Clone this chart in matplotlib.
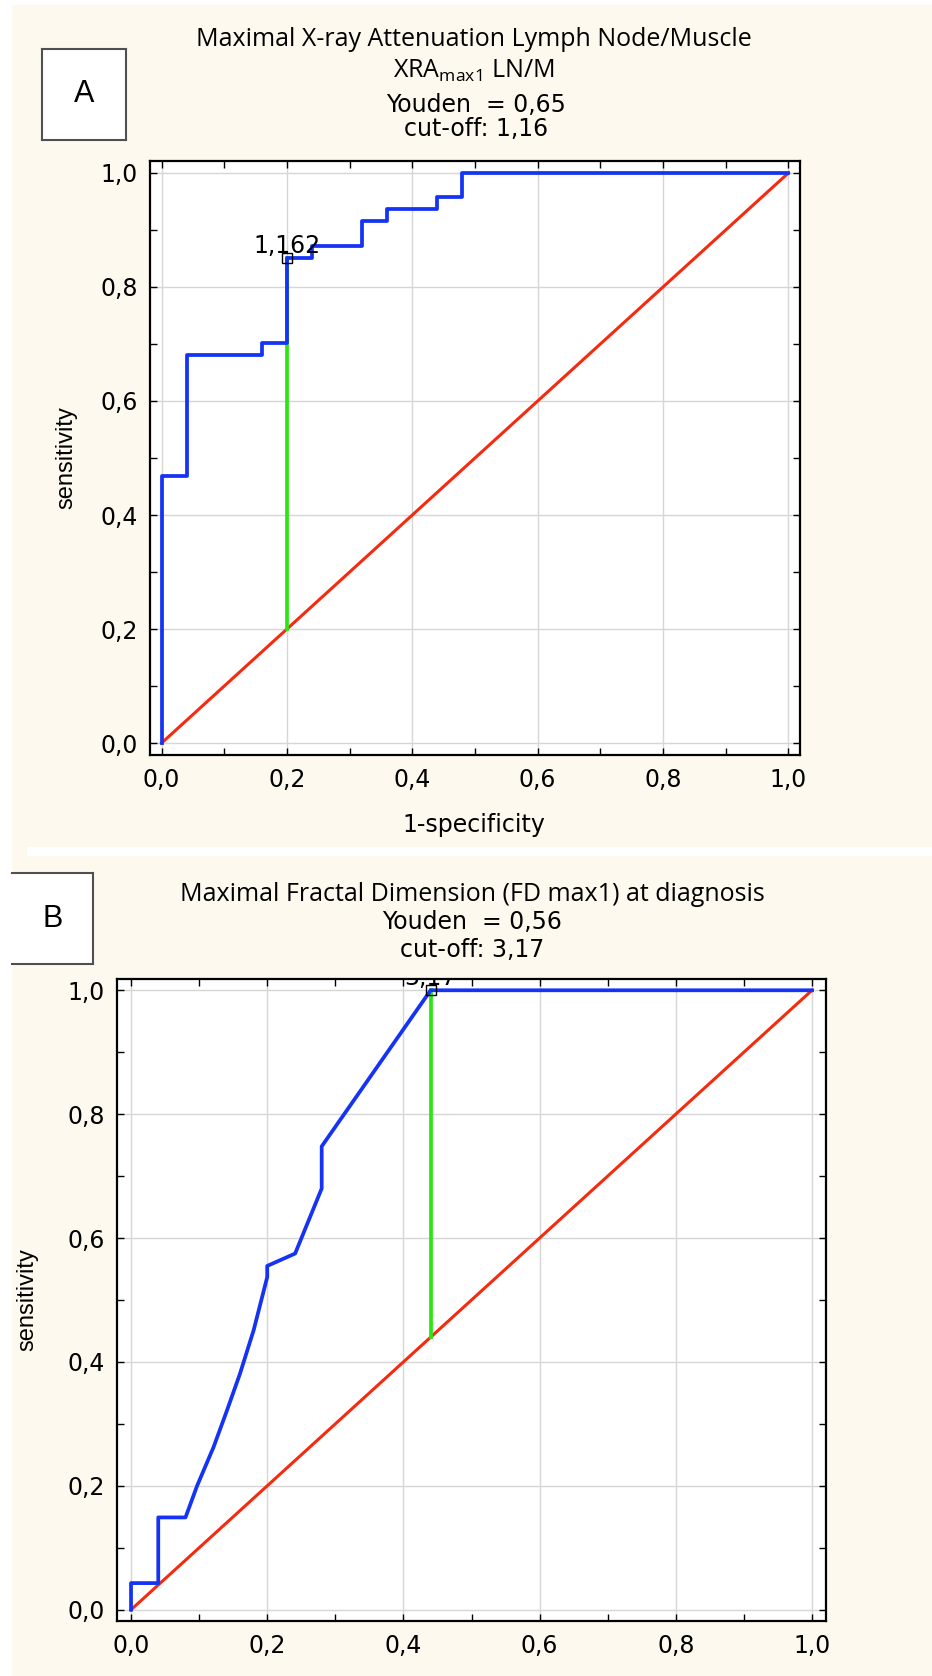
import matplotlib
matplotlib.use("Agg")
import matplotlib.pyplot as plt
from matplotlib.patches import Rectangle
from matplotlib.lines import Line2D
from matplotlib.ticker import MultipleLocator, FixedLocator, FixedFormatter

LARGURA, ALTURA = 932, 1676
DPI = 100

# Curva ROC - painel A (XRA max1 LN/M)
A_FPR = [0.0, 0.0, 0.04, 0.04, 0.16, 0.16, 0.20, 0.20, 0.24, 0.24,
         0.32, 0.32, 0.36, 0.36, 0.44, 0.44, 0.48, 0.48, 1.0]
A_TPR = [0.0, 0.468, 0.468, 0.681, 0.681, 0.702, 0.702, 0.851, 0.851, 0.872,
         0.872, 0.915, 0.915, 0.936, 0.936, 0.957, 0.957, 1.0, 1.0]
A_CORTE = (0.20, 0.851)
A_ROTULO = "1,162"

# Curva ROC - painel B (FD max1)
B_FPR = [0.0, 0.0, 0.04, 0.04, 0.08, 0.097, 0.121, 0.14, 0.16, 0.18,
         0.20, 0.20, 0.241, 0.28, 0.28, 0.44, 1.0]
B_TPR = [0.0, 0.043, 0.043, 0.149, 0.149, 0.20, 0.262, 0.319, 0.381, 0.451,
         0.537, 0.555, 0.575, 0.680, 0.748, 1.0, 1.0]
B_CORTE = (0.44, 1.0)
B_ROTULO = "3,17"

TICKS = [0.0, 0.2, 0.4, 0.6, 0.8, 1.0]
TICK_LABELS = ["0,0", "0,2", "0,4", "0,6", "0,8", "1,0"]

CREME = "#fdf9ee"
AZUL = "#1433f5"
VERMELHO = "#f52a0e"
VERDE = "#2ae812"
SANS = ["DejaVu Sans"]
ARIAL = ["Liberation Sans", "DejaVu Sans"]
TITULO = ["Open Sans", "DejaVu Sans"]


def fx(px):
    return px / LARGURA


def fy(py):
    return 1 - py / ALTURA


def eixo(fig, esq, topo, dir_, base, xlim, ylim):
    ax = fig.add_axes([fx(esq), fy(base), fx(dir_ - esq), (base - topo) / ALTURA])
    ax.set_zorder(2)
    ax.set_xlim(*xlim)
    ax.set_ylim(*ylim)
    ax.set_facecolor("white")
    for lado in ax.spines.values():
        lado.set_linewidth(1.6)
        lado.set_color("black")
    for eixo_ in (ax.xaxis, ax.yaxis):
        eixo_.set_major_locator(FixedLocator(TICKS))
        eixo_.set_major_formatter(FixedFormatter(TICK_LABELS))
        eixo_.set_minor_locator(MultipleLocator(0.1))
    ax.tick_params(which="both", direction="in", top=True, right=True,
                   length=5, width=1, labelsize=17, pad=9)
    for t in ax.get_xticklabels() + ax.get_yticklabels():
        t.set_family(SANS)
    ax.grid(True, which="major", color="#d6d6d6", linewidth=1)
    ax.set_axisbelow(True)
    return ax


def desenhar_roc(ax, fpr, tpr, corte, rotulo):
    ax.plot([0, 1], [0, 1], color=VERMELHO, linewidth=2.2, zorder=3)
    ax.plot([corte[0], corte[0]], [corte[0], corte[1]], color=VERDE,
            linewidth=2.7, zorder=4)
    ax.plot(fpr, tpr, color=AZUL, linewidth=2.7, zorder=5)
    ax.plot([corte[0]], [corte[1]], marker="s", markersize=7.5,
            markerfacecolor="none", markeredgecolor="black",
            markeredgewidth=1, zorder=6)
    ax.text(corte[0], corte[1] + 0.009, rotulo, ha="center", va="baseline",
            fontsize=17, family=SANS, zorder=7, clip_on=True)


def caixa_letra(fig, x0, y0, x1, y1, letra, borda_esq=True):
    fig.patches.append(Rectangle((fx(x0), fy(y1)), fx(x1 - x0), (y1 - y0) / ALTURA,
                                 transform=fig.transFigure, facecolor="white",
                                 edgecolor="none", zorder=1))
    cor = "#505050"
    segs = [((x0, y0), (x1, y0)), ((x1, y0), (x1, y1)), ((x0, y1), (x1, y1))]
    if borda_esq:
        segs.append(((x0, y0), (x0, y1)))
    for (a, b) in segs:
        fig.lines.append(Line2D([fx(a[0]), fx(b[0])], [fy(a[1]), fy(b[1])],
                                transform=fig.transFigure, color=cor,
                                linewidth=1.5, zorder=2))
    fig.text(fx((x0 + x1) / 2), fy((y0 + y1) / 2), letra, ha="center",
             va="center", fontsize=22, family=ARIAL, zorder=3)


def fundo(fig, x0, y0, x1, y1, cor):
    fig.patches.append(Rectangle((fx(x0), fy(y1)), fx(x1 - x0), (y1 - y0) / ALTURA,
                                 transform=fig.transFigure, facecolor=cor,
                                 edgecolor="none", zorder=-5))


def main():
    fig = plt.figure(figsize=(LARGURA / DPI, ALTURA / DPI), dpi=DPI)
    fig.patch.set_facecolor("white")

    # fundos creme dos dois paineis
    fundo(fig, 12, 5, LARGURA, 847, CREME)
    fundo(fig, 12, 847, 27, 856, CREME)
    fundo(fig, 12, 856, LARGURA, ALTURA, CREME)

    # Painel A
    ax_a = eixo(fig, 150, 161, 800, 755, (-0.0185, 1.0185), (-0.021, 1.021))
    desenhar_roc(ax_a, A_FPR, A_TPR, A_CORTE, A_ROTULO)
    caixa_letra(fig, 42, 49, 126, 140, "A")
    fig.text(fx(474), fy(39), "Maximal X-ray Attenuation Lymph Node/Muscle",
             ha="center", va="center", fontsize=18, family=TITULO)
    fig.text(fx(474), fy(71), r"XRA$_{\mathregular{max1}}$ LN/M",
             ha="center", va="center", fontsize=18, family=TITULO)
    fig.text(fx(476), fy(105), "Youden  = 0,65", ha="center", va="center",
             fontsize=17, family=SANS)
    fig.text(fx(476), fy(129), "cut-off: 1,16", ha="center", va="center",
             fontsize=17, family=SANS)
    fig.text(fx(474), fy(825), "1-specificity", ha="center", va="center",
             fontsize=17, family=SANS)
    fig.text(fx(66), fy(458), "sensitivity", ha="center", va="center",
             rotation=90, fontsize=17, family=ARIAL)

    # Painel B
    ax_b = eixo(fig, 117, 979, 826, 1621, (-0.0206, 1.0206), (-0.0182, 1.0182))
    desenhar_roc(ax_b, B_FPR, B_TPR, B_CORTE, B_ROTULO)
    caixa_letra(fig, 12, 873, 93, 964, "B", borda_esq=False)
    fig.text(fx(472), fy(894), "Maximal Fractal Dimension (FD max1) at diagnosis",
             ha="center", va="center", fontsize=18, family=TITULO)
    fig.text(fx(472), fy(922), "Youden  = 0,56", ha="center", va="center",
             fontsize=17, family=SANS)
    fig.text(fx(472), fy(950), "cut-off: 3,17", ha="center", va="center",
             fontsize=17, family=SANS)
    fig.text(fx(27), fy(1300), "sensitivity", ha="center", va="center",
             rotation=90, fontsize=17, family=ARIAL)

    fig.savefig("out.png", dpi=DPI, facecolor=fig.get_facecolor())
    plt.close(fig)


if __name__ == "__main__":
    main()
